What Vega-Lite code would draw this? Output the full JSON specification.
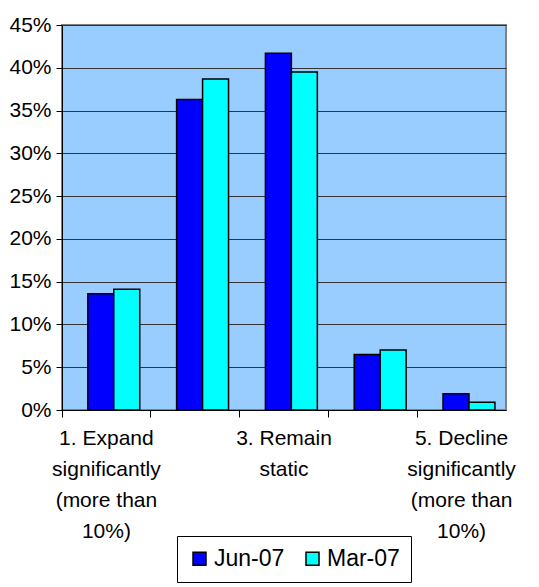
{
  "$schema": "https://vega.github.io/schema/vega-lite/v6.json",
  "autosize": {"type": "none"},
  "width": 444,
  "height": 385,
  "padding": {"left": 62, "top": 25, "right": 33, "bottom": 177},
  "background": "white",
  "config": {
    "font": "Liberation Sans",
    "view": {"fill": "#99CCFF", "stroke": "#808080", "strokeWidth": 2}
  },
  "data": {
    "values": [
      {"cat": "1. Expand significantly (more than 10%)", "series": "Jun-07", "value": 0.136},
      {"cat": "1. Expand significantly (more than 10%)", "series": "Mar-07", "value": 0.141},
      {"cat": "2. Expand moderately (up to 10%)", "series": "Jun-07", "value": 0.363},
      {"cat": "2. Expand moderately (up to 10%)", "series": "Mar-07", "value": 0.387},
      {"cat": "3. Remain static", "series": "Jun-07", "value": 0.417},
      {"cat": "3. Remain static", "series": "Mar-07", "value": 0.395},
      {"cat": "4. Decline moderately (up to 10%)", "series": "Jun-07", "value": 0.065},
      {"cat": "4. Decline moderately (up to 10%)", "series": "Mar-07", "value": 0.070},
      {"cat": "5. Decline significantly (more than 10%)", "series": "Jun-07", "value": 0.019},
      {"cat": "5. Decline significantly (more than 10%)", "series": "Mar-07", "value": 0.009}
    ]
  },
  "mark": {"type": "bar", "stroke": "black", "strokeWidth": 1.5},
  "encoding": {
    "x": {
      "field": "cat",
      "type": "nominal",
      "scale": {"paddingInner": 0, "paddingOuter": 0},
      "axis": {
        "title": null,
        "labelAngle": 0,
        "labelFontSize": 21,
        "labelColor": "black",
        "labelLineHeight": 31,
        "labelPadding": 10,
        "labelLimit": 200,
        "domainColor": "black",
        "tickColor": "black",
        "tickSize": 7,
        "bandPosition": 0,
        "labelExpr": "datum.value[0] == '1' ? ['1. Expand', 'significantly', '(more than', '10%)'] : datum.value[0] == '3' ? ['3. Remain', 'static'] : datum.value[0] == '5' ? ['5. Decline', 'significantly', '(more than', '10%)'] : ''"
      }
    },
    "xOffset": {
      "field": "series",
      "type": "nominal",
      "scale": {"paddingInner": 0, "paddingOuter": 0.71, "align": 0.7}
    },
    "y": {
      "field": "value",
      "type": "quantitative",
      "scale": {"domain": [0, 0.45], "nice": false},
      "axis": {
        "title": null,
        "format": ".0%",
        "values": [0, 0.05, 0.1, 0.15, 0.2, 0.25, 0.3, 0.35, 0.4, 0.45],
        "labelFontSize": 21,
        "labelColor": "black",
        "labelPadding": 5,
        "domainColor": "black",
        "tickColor": "black",
        "tickSize": 6,
        "gridColor": "#333333",
        "gridWidth": 1
      }
    },
    "fill": {
      "field": "series",
      "type": "nominal",
      "scale": {"domain": ["Jun-07", "Mar-07"], "range": ["#0000FF", "#00FFFF"]},
      "legend": {
        "title": null,
        "orient": "none",
        "direction": "horizontal",
        "legendX": 115,
        "legendY": 511,
        "strokeColor": "black",
        "fillColor": "white",
        "padding": 11,
        "labelFontSize": 23,
        "labelColor": "black",
        "symbolType": "square",
        "symbolSize": 169,
        "symbolStrokeColor": "black",
        "symbolStrokeWidth": 1.5,
        "symbolOpacity": 1,
        "columnPadding": 16,
        "labelOffset": 3
      }
    }
  }
}
